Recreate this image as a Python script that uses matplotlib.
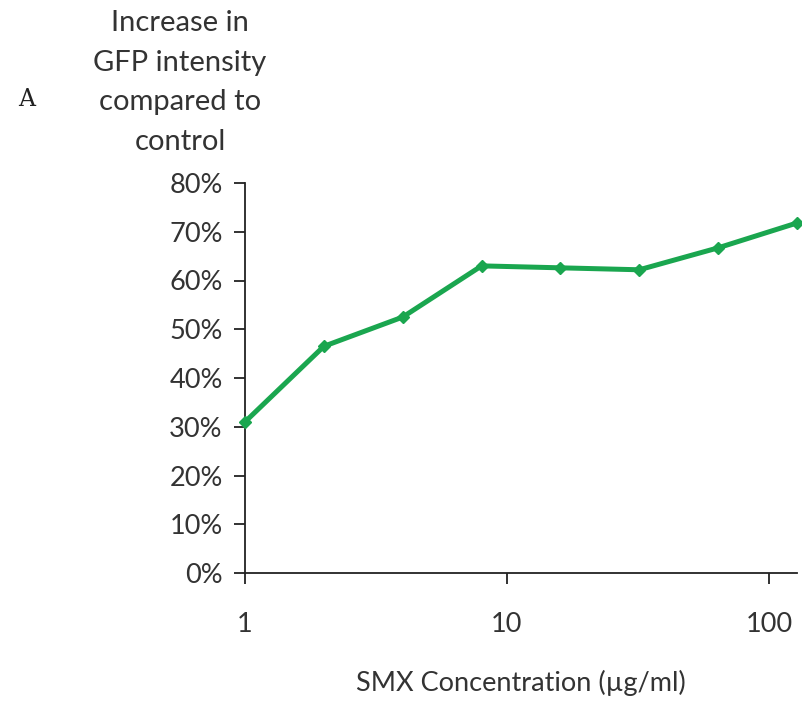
import numpy as np
import matplotlib
matplotlib.use('Agg')
import matplotlib.pyplot as plt
from matplotlib.ticker import FuncFormatter, FixedLocator, NullLocator

# SMX concentration (ug/ml) and increase in GFP intensity (%)
conc = [1, 2, 4, 8, 16, 32, 64, 128]
gfp_increase = [31.0, 46.5, 52.5, 63.0, 62.6, 62.2, 66.7, 71.8]

y_ticks = [0, 10, 20, 30, 40, 50, 60, 70, 80]
x_ticks = [1, 10, 100]
ylabel_lines = ['Increase in', 'GFP intensity', 'compared to', 'control']

plt.rcParams['font.family'] = ['Lato', 'DejaVu Sans']
fs = 19.5
W, H = 803, 702

fig = plt.figure(figsize=(W / 100, H / 100), dpi=100)
ax = fig.add_axes([245 / W, 1 - 573 / H, (797 - 245) / W, (573 - 183) / H])

ax.plot(conc, gfp_increase, color='#1AA64F', lw=3.6, marker='D', ms=6.5,
        mec='#1AA64F', mfc='#1AA64F', clip_on=False, zorder=3)

ax.set_xscale('log')
ax.set_xlim(1, 128)
ax.set_ylim(0, 80)
ax.xaxis.set_major_locator(FixedLocator(x_ticks))
ax.xaxis.set_minor_locator(NullLocator())
ax.xaxis.set_major_formatter(FuncFormatter(lambda v, p: '%d' % v))
ax.set_yticks(y_ticks)
ax.yaxis.set_major_formatter(FuncFormatter(lambda v, p: '%d%%' % v))

for s in ['top', 'right']:
    ax.spines[s].set_visible(False)
for s in ['left', 'bottom']:
    ax.spines[s].set_linewidth(1.3)
    ax.spines[s].set_color('#222222')

ax.tick_params(axis='y', direction='out', length=8, width=1.3, pad=8,
               labelsize=fs, colors='#222222', labelcolor='#333333')
ax.tick_params(axis='x', direction='out', length=8, width=1.3, pad=20,
               labelsize=fs, colors='#222222', labelcolor='#333333')

ax.set_xlabel('SMX Concentration (\u00b5g/ml)', fontsize=fs, color='#333333', labelpad=24)

# multi-line y label placed above the axis
for i, line in enumerate(ylabel_lines):
    fig.text(180 / W, 1 - (23 + 39.5 * i) / H, line, ha='center', va='center',
             fontsize=21, color='#333333')

fig.text(27 / W, 1 - 100 / H, 'A', ha='center', va='center', fontsize=17,
         family='DejaVu Serif', color='#222222')

fig.savefig('out.png', dpi=100)
